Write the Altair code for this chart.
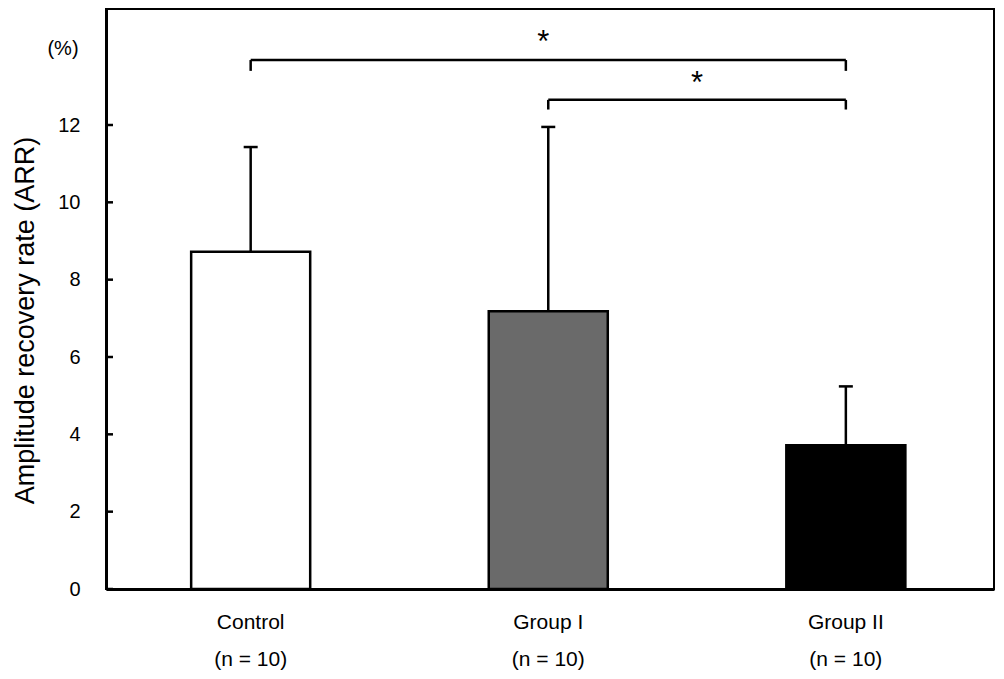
import altair as alt
import pandas as pd

# ---- data ----
groups = ["Control", "Group I", "Group II"]
means = [8.72, 7.18, 3.72]
sds = [2.71, 4.77, 1.52]
n_sizes = [10, 10, 10]
bar_colors = ["#ffffff", "#6a6a6a", "#000000"]
y_ticks = [0, 2, 4, 6, 8, 10, 12]

bracket_from = ["Control", "Group I"]
bracket_to = ["Group II", "Group II"]
bracket_level = [13.68, 12.65]
bracket_drop = [13.40, 12.40]
star_level = [13.88, 12.83]
star_text = ["*", "*"]

unit_label = "(%)"
unit_level = 13.96

FONT = "Liberation Sans"
W, H = 888, 580
P_INNER, P_OUTER, ALIGN = 0.6, 0.292, 0.49
step = W / (len(groups) - P_INNER + 2 * P_OUTER)

bars = pd.DataFrame({
    "group": groups,
    "mean": means,
    "top": [m + s for m, s in zip(means, sds)],
    "n": n_sizes,
})

xscale = alt.Scale(domain=groups, paddingInner=P_INNER, paddingOuter=P_OUTER, align=ALIGN)
yscale = alt.Scale(domain=[0, 15], nice=False, zero=True)

label_expr = "[datum.label, [" + ",".join(f"'(n = {n})'" for n in n_sizes) + "][indexof([" + \
    ",".join(f"'{g}'" for g in groups) + "], datum.label)]]"

xaxis = alt.Axis(title=None, labelAngle=0, ticks=False, tickSize=0, labelPadding=22,
                 labelBaseline="top", labelFontSize=21, labelFont=FONT, labelColor="black",
                 labelLineHeight=37, labelExpr=label_expr, domainColor="black",
                 domainWidth=3, grid=False)
yaxis = alt.Axis(title="Amplitude recovery rate (ARR)", values=y_ticks, ticks=False,
                 tickSize=0, labelPadding=26, labelFontSize=20, labelFont=FONT,
                 labelColor="black", domainColor="black", domainWidth=3, grid=False,
                 titleFont=FONT, titleFontSize=27, titleFontWeight="normal",
                 titleColor="black", titleX=-81, titleY=311, titleAlign="center",
                 titleBaseline="middle", titleAngle=270)


def X(field="group"):
    return alt.X(f"{field}:N", scale=xscale, axis=xaxis)


def Y(field):
    return alt.Y(f"{field}:Q", scale=yscale, axis=yaxis)


base = alt.Chart(bars)

bar_layer = base.mark_bar(stroke="black", strokeWidth=2.5).encode(
    x=X(), y=Y("mean"),
    color=alt.Color("group:N", scale=alt.Scale(domain=groups, range=bar_colors), legend=None),
)
err_layer = base.mark_rule(color="black", strokeWidth=2.5).encode(
    x=X(), y=Y("mean"), y2="top:Q"
)
cap_layer = base.mark_tick(color="black", size=14, thickness=2.5, opacity=1).encode(
    x=X(), y=Y("top")
)

ticks_df = pd.DataFrame({"v": y_ticks})
tick_layer = alt.Chart(ticks_df).mark_rule(color="black", strokeWidth=2.5).encode(
    y=Y("v"), x=alt.value(0), x2=alt.value(7)
)

br_df = pd.DataFrame({"group": bracket_from, "to": bracket_to,
                      "level": bracket_level, "drop": bracket_drop})
br_h = alt.Chart(br_df).mark_rule(color="black", strokeWidth=2.5).encode(
    x=X(), x2="to:N", y=Y("level")
)
drop_df = pd.DataFrame({
    "group": bracket_from + bracket_to,
    "level": bracket_level + bracket_level,
    "drop": bracket_drop + bracket_drop,
})
br_v = alt.Chart(drop_df).mark_rule(color="black", strokeWidth=2.5).encode(
    x=X(), y=Y("level"), y2="drop:Q"
)

star_layers = []
for f, t, lv, txt in zip(bracket_from, bracket_to, star_level, star_text):
    i0, i1 = groups.index(f), groups.index(t)
    mid = (i0 + i1) / 2
    anchor = int(mid)
    dx = (mid - anchor) * step - (5 if mid == anchor else 0)
    sdf = pd.DataFrame({"group": [groups[anchor]], "level": [lv], "txt": [txt]})
    star_layers.append(
        alt.Chart(sdf).mark_text(fontSize=31, font=FONT, color="black",
                                 baseline="alphabetic", align="center", dx=dx).encode(
            x=X(), y=Y("level"), text="txt:N"
        )
    )

unit_layer = alt.Chart(pd.DataFrame({"t": [unit_label]})).mark_text(
    fontSize=20, font=FONT, color="black", baseline="middle", align="center"
).encode(x=alt.value(-43), y=alt.datum(unit_level, scale=yscale, axis=yaxis), text="t:N")

chart = alt.layer(
    bar_layer, err_layer, cap_layer, tick_layer, br_h, br_v, *star_layers, unit_layer
).properties(
    width=W, height=H,
    autosize=alt.AutoSizeParams(type="none"),
    padding={"left": 98, "top": 1, "right": 2, "bottom": 82},
).configure(
    background="white"
).configure_view(
    stroke="black", strokeWidth=2
)

chart.save("out.html", embed_options={"renderer": "svg", "actions": False})
